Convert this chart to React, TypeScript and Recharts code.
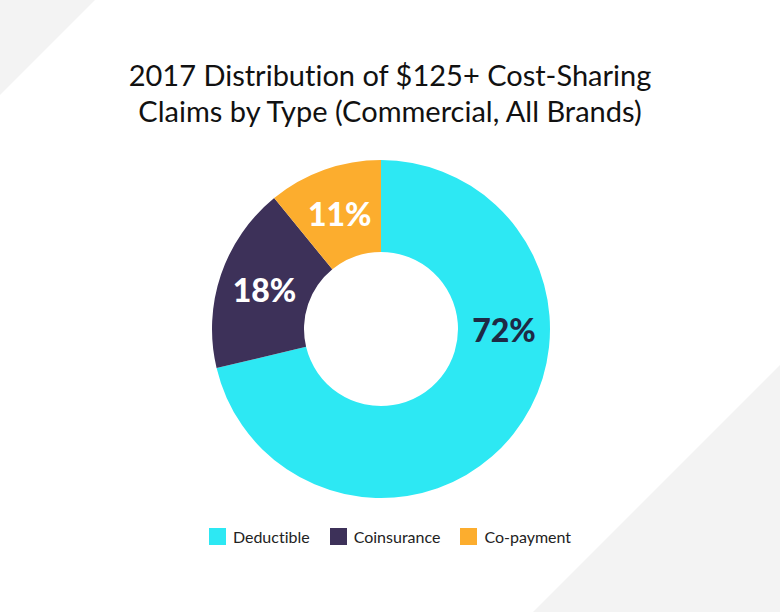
import { Cell, Pie, PieChart } from "recharts";

const categories = ["Deductible", "Coinsurance", "Co-payment"];
const shares = [72, 18, 11];
const colors = ["#2de8f3", "#3d3159", "#fcad2e"];
const labelColors = ["#1e2a45", "#ffffff", "#ffffff"];

const data = categories.map((name, i) => ({ name, value: shares[i] }));

const RAD = Math.PI / 180;
const FONT = "Lato, sans-serif";

function renderLabel(props: any) {
  const { cx, cy, innerRadius, outerRadius, midAngle, index, value } = props;
  const r = (innerRadius + outerRadius) / 2;
  // the big slice carries its label at 3 o'clock rather than its middle
  const angle = index === 0 ? 0 : midAngle;
  const x = cx + r * Math.cos(-angle * RAD);
  const y = cy + r * Math.sin(-angle * RAD);
  return (
    <text
      x={x}
      y={y}
      fill={labelColors[index]}
      textAnchor="middle"
      dominantBaseline="central"
      fontSize={32}
      fontWeight={900}
      fontFamily={FONT}
    >
      {`${value}%`}
    </text>
  );
}

export default function App() {
  return (
    <div style={{ position: "fixed", left: 0, top: 0, width: 780, height: 612, background: "#fff", overflow: "hidden" }}>
      <svg width={780} height={612} style={{ position: "absolute", left: 0, top: 0 }}>
        <polygon points="0,0 95,0 0,95" fill="#f3f3f3" />
        <polygon points="780,365 780,612 533,612" fill="#f3f3f3" />
      </svg>
      <div
        style={{
          position: "absolute",
          top: 57,
          left: 0,
          width: 780,
          textAlign: "center",
          fontFamily: FONT,
          fontSize: 29,
          lineHeight: "36px",
          color: "#111",
          fontVariantLigatures: "none",
        }}
      >
        2017 Distribution of $125+ Cost-Sharing
        <br />
        Claims by Type (Commercial, All Brands)
      </div>
      <div style={{ position: "absolute", left: 0, top: 0 }}>
        <PieChart width={780} height={612} margin={{ top: 0, right: 0, bottom: 0, left: 0 }}>
          <Pie
            data={data}
            dataKey="value"
            nameKey="name"
            cx={381}
            cy={329}
            innerRadius={77}
            outerRadius={169}
            startAngle={90}
            endAngle={-270}
            stroke="none"
            label={renderLabel}
            labelLine={false}
            isAnimationActive={false}
          >
            {data.map((d, i) => (
              <Cell key={d.name} fill={colors[i]} />
            ))}
          </Pie>
        </PieChart>
      </div>
      <div
        style={{
          position: "absolute",
          top: 527,
          left: 0,
          width: 780,
          display: "flex",
          justifyContent: "center",
          gap: 20,
          fontFamily: FONT,
          fontVariantLigatures: "none",
        }}
      >
        {categories.map((c, i) => (
          <div key={c} style={{ display: "flex", alignItems: "center" }}>
            <span style={{ width: 17, height: 17, background: colors[i], display: "inline-block", marginRight: 7 }} />
            <span style={{ fontSize: 16, color: "#222" }}>{c}</span>
          </div>
        ))}
      </div>
    </div>
  );
}
